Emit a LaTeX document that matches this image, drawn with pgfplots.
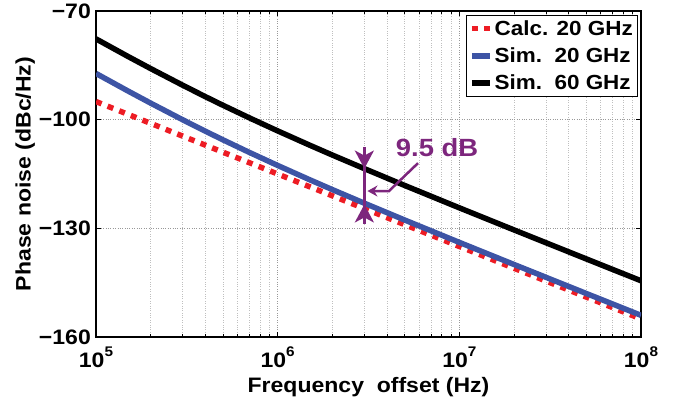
\documentclass[border=0pt]{standalone}
\usepackage{fontspec}
\setmainfont{Liberation Sans}[FakeStretch=1.1]
\usepackage{pgfplots}
\pgfplotsset{compat=1.18}
\usetikzlibrary{arrows.meta}
\definecolor{cred}{RGB}{237,28,36}
\definecolor{cblue}{RGB}{61,84,165}
\definecolor{cpurp}{RGB}{125,38,125}
\newcommand\xtl[1]{10\raisebox{11bp}{\fontsize{14}{14}\selectfont #1}}
\begin{document}
\begin{tikzpicture}[font=\bfseries]
\path[use as bounding box] (-96bp,-67bp) rectangle (583bp,337bp);
\begin{axis}[
  scale only axis, width=545bp, height=326bp,
  at={(0,0)}, anchor=south west,
  xmode=log, xmin=1e5, xmax=1e8, ymin=-160, ymax=-70,
  xtick={1e5,1e6,1e7,1e8},
  xticklabels={\xtl{5},\xtl{6},\xtl{7},\xtl{8}},
  ytick={-160,-130,-100,-70},
  yticklabels={−160,−130,−100,−70},
  ticklabel style={font=\fontsize{21}{25}\selectfont\bfseries},
  xticklabel style={inner sep=0pt, yshift=-10bp},
  yticklabel style={inner sep=0pt, xshift=-5bp},
  tick align=inside, major tick length=5bp, minor tick length=3bp,
  tick style={black, line width=0.9bp},
  axis line style={line width=1.2bp},
  xmajorgrids, xminorgrids, ymajorgrids,
  major grid style={dotted, gray!80, line width=0.8bp},
  minor grid style={dotted, gray!50, line width=0.8bp},
  xlabel={Frequency\ \ offset (Hz)},
  ylabel={Phase noise (dBc/Hz)},
  every axis x label/.style={at={(axis description cs:0.5,-0.153)}, anchor=center, font=\fontsize{21}{25}\selectfont\bfseries},
  every axis y label/.style={at={(axis description cs:-0.130,0.5)}, anchor=center, rotate=90, font=\fontsize{21}{25}\selectfont\bfseries},
  legend style={at={(rel axis cs:0.995,0.988)}, anchor=north east, draw=black, line width=1bp,
    font=\fontsize{20.5}{24}\selectfont\bfseries, inner sep=3bp, row sep=7bp},
  legend cell align=left,
  legend image code/.code={\draw[#1] (0bp,0bp) -- (18bp,0bp);},
]
\addplot[cred, line width=5.5bp, dash pattern=on 6bp off 6.5bp] coordinates {
 (1e5,-95) (1e6,-115) (1e7,-135) (1e8,-155)};
\addlegendentry{Calc. 20 GHz}
\addplot[cblue, line width=5.5bp] coordinates {
 (1e5,-87.24) (1.5e5,-92.09) (2e5,-95.44) (3e5,-100.03) (4e5,-103.19) (5e5,-105.57)
 (7e5,-109.06) (1e6,-112.64) (1.5e6,-116.58) (2e6,-119.31) (3e6,-123.06) (5e6,-127.70)
 (1e7,-133.88) (2e7,-139.98) (5e7,-147.99) (1e8,-154.02)};
\addlegendentry{\rlap{Sim.}\phantom{Calc.} 20 GHz}
\addplot[black, line width=5.5bp] coordinates {
 (1e5,-77.70) (1.5e5,-82.55) (2e5,-85.90) (3e5,-90.49) (4e5,-93.65) (5e5,-96.03)
 (7e5,-99.52) (1e6,-103.10) (1.5e6,-107.04) (2e6,-109.77) (3e6,-113.52) (5e6,-118.16)
 (1e7,-124.34) (2e7,-130.44) (5e7,-138.45) (1e8,-144.48)};
\addlegendentry{\rlap{Sim.}\phantom{Calc.} 60 GHz}
\draw[cpurp, line width=2.7bp] (axis cs:3e6,-107.8) -- (axis cs:3e6,-128.6);
\draw[cpurp, line width=2.7bp, -{Stealth[length=18bp, width=19bp, inset=5bp]}] (axis cs:3e6,-107.6) -- (axis cs:3e6,-113.5);
\draw[cpurp, line width=2.7bp, -{Stealth[length=18bp, width=19bp, inset=5bp]}] (axis cs:3e6,-128.8) -- (axis cs:3e6,-123.4);
\draw[cpurp, line width=2.5bp, -{Stealth[length=10bp, width=11bp]}] (axis cs:5.92e6,-112.0) -- (axis cs:4.1e6,-119.7) -- (axis cs:3.12e6,-119.7);
\node[cpurp, font=\fontsize{25}{30}\selectfont\bfseries] at (axis cs:7.54e6,-107.6) {9.5 dB};
\end{axis}
\end{tikzpicture}
\end{document}
